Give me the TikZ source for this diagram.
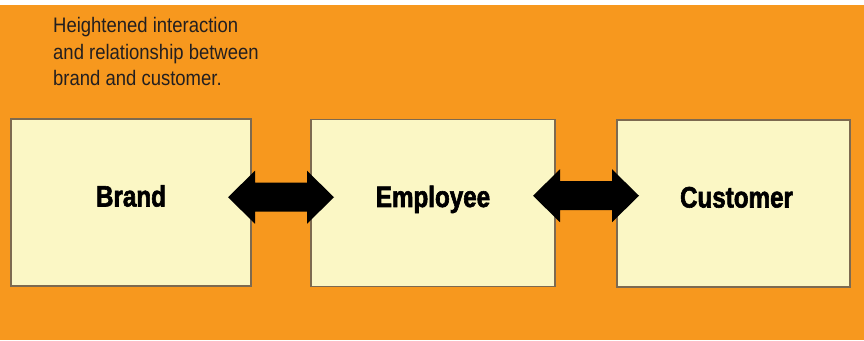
\documentclass[tikz,border=0pt]{standalone}
\usepackage{fontspec}
\setmainfont{Liberation Sans}
\newfontfamily\boxfont[FakeStretch=0.82,FakeBold=2]{Liberation Sans}
\newfontfamily\notefont[FakeStretch=0.88]{Liberation Sans}
\usetikzlibrary{calc}
\definecolor{bgorange}{HTML}{F7981E}
\definecolor{boxfill}{HTML}{FBF7C5}
\definecolor{boxline}{HTML}{7D6A50}
\definecolor{notetext}{HTML}{231F20}
\tikzset{
  boxnode/.style={draw=boxline, line width=1.3pt, fill=boxfill, rectangle,
    inner sep=0pt, minimum height=167pt,
    font=\boxfont\bfseries\fontsize{29.5}{32}\selectfont,
    text height=22pt, text depth=14pt},
  dblarrow/.pic={
    \fill[black] (-53,0) -- (-26,26.5) -- (-26,14.5) -- (26,14.5) -- (26,26.5)
      -- (53,0) -- (26,-26.5) -- (26,-14.5) -- (-26,-14.5) -- (-26,-26.5) -- cycle;
  }
}
\begin{document}
\begin{tikzpicture}[x=1pt,y=1pt]
\useasboundingbox (0,0) rectangle (864,340);
\fill[white] (0,0) rectangle (864,340);
\fill[bgorange] (0,0) rectangle (864,335);
\node[anchor=north west, inner sep=0pt, align=left, text=notetext,
  font=\notefont\fontsize{21}{26.7}\selectfont] (note) at (53,323)
  {Heightened interaction\\and relationship between\\brand and customer.};
\node[boxnode, minimum width=240pt] (brand) at (131,137.5) {Brand\hspace{11pt}};
\node[boxnode, minimum width=244pt] (emp) at (433,137) {Employee\hspace{6pt}};
\node[boxnode, minimum width=233pt] (cust) at (733.5,136.5) {\hspace{6pt}Customer};
\coordinate (a1) at ($($(brand.east)!0.5!(emp.west)$)+(0,5.5)$);
\coordinate (a2) at ($($(emp.east)!0.5!(cust.west)$)+(0,7.5)$);
\pic at (a1) {dblarrow};
\pic at (a2) {dblarrow};
\end{tikzpicture}
\end{document}
